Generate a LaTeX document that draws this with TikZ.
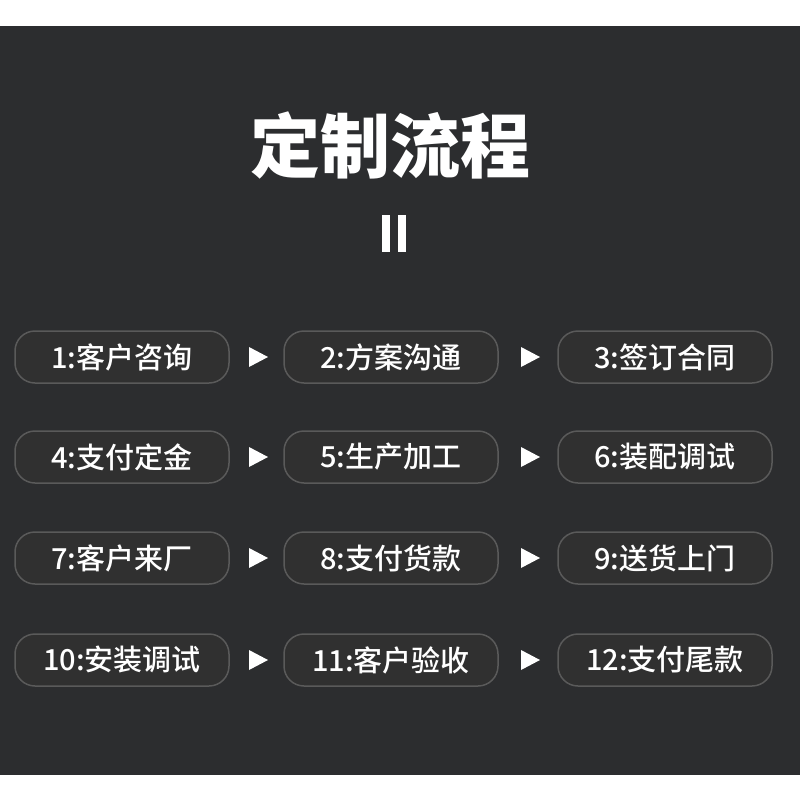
\documentclass[tikz,border=0pt]{standalone}
\usepackage{fontspec}
\usetikzlibrary{calc}
\newfontfamily\cjk{Noto Sans CJK SC Medium}
\newfontfamily\cjkb{Noto Sans CJK SC Black}
\definecolor{bg}{HTML}{2C2D2F}
\definecolor{bt}{HTML}{303030}
\definecolor{bd}{HTML}{5A5A5A}
\begin{document}
\begin{tikzpicture}[x=1pt,y=-1pt,
 btn/.style={draw=bd,line width=1.5pt,fill=bt,rounded corners=20pt,minimum width=214pt,minimum height=52pt,text=white,font=\cjk\fontsize{29}{32}\selectfont}]
\useasboundingbox (0,0) rectangle (800,800);
\fill[white] (0,0) rectangle (800,800);
\fill[bg] (0,26) rectangle (800,775);
\node[text=white,font=\cjkb\fontsize{70}{76}\selectfont] (title) at (390,145) {定制流程};
\fill[white] (382,215) rectangle (390,252);
\fill[white] (398,215) rectangle (406,252);
\foreach \r/\y/\a/\b/\c in {0/357/1:客户咨询/2:方案沟通/3:签订合同,1/457/4:支付定金/5:生产加工/6:装配调试,2/558/7:客户来厂/8:支付货款/9:送货上门,3/660/10:安装调试/11:客户验收/12:支付尾款}{
 \node[btn] (a\r) at (122,\y) {\a};
 \node[btn] (b\r) at (391,\y) {\b};
 \node[btn] (c\r) at (665,\y) {\c};
 \coordinate (p\r) at (258,\y);
 \coordinate (q\r) at (530,\y);
 \fill[white] ($(p\r)+(-9,-10)$) -- ($(p\r)+(10,0)$) -- ($(p\r)+(-9,10)$) -- cycle;
 \fill[white] ($(q\r)+(-9,-10)$) -- ($(q\r)+(10,0)$) -- ($(q\r)+(-9,10)$) -- cycle;
}
\end{tikzpicture}
\end{document}
